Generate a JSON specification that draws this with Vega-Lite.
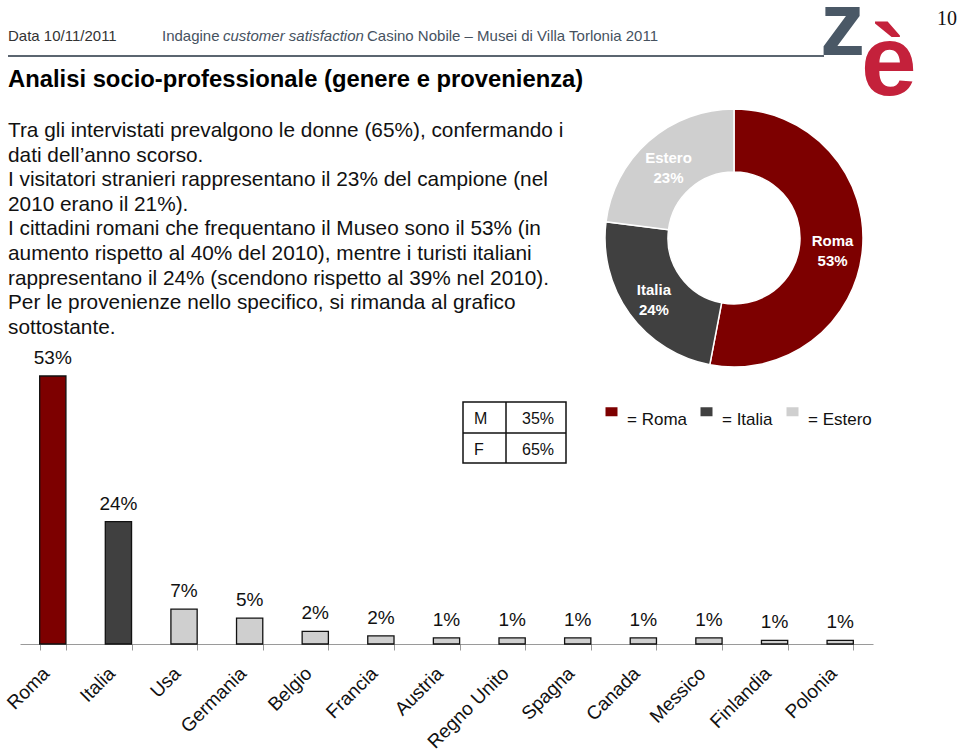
{
  "$schema": "https://vega.github.io/schema/vega-lite/v6.json",
  "width": 960,
  "height": 644,
  "autosize": {"type": "none"},
  "padding": {"left": 0, "top": 0, "right": 0, "bottom": 108},
  "background": "white",
  "config": {"view": {"stroke": null}, "font": "Liberation Sans", "text": {"font": "Liberation Sans"}},
  "datasets": {
    "paesi": [
      {"paese": "Roma", "gruppo": "Roma", "quota": 53, "etichetta": "53%"},
      {"paese": "Italia", "gruppo": "Italia", "quota": 24.2, "etichetta": "24%"},
      {"paese": "Usa", "gruppo": "Estero", "quota": 6.9, "etichetta": "7%"},
      {"paese": "Germania", "gruppo": "Estero", "quota": 5.1, "etichetta": "5%"},
      {"paese": "Belgio", "gruppo": "Estero", "quota": 2.5, "etichetta": "2%"},
      {"paese": "Francia", "gruppo": "Estero", "quota": 1.6, "etichetta": "2%"},
      {"paese": "Austria", "gruppo": "Estero", "quota": 1.2, "etichetta": "1%"},
      {"paese": "Regno Unito", "gruppo": "Estero", "quota": 1.2, "etichetta": "1%"},
      {"paese": "Spagna", "gruppo": "Estero", "quota": 1.2, "etichetta": "1%"},
      {"paese": "Canada", "gruppo": "Estero", "quota": 1.2, "etichetta": "1%"},
      {"paese": "Messico", "gruppo": "Estero", "quota": 1.2, "etichetta": "1%"},
      {"paese": "Finlandia", "gruppo": "Estero", "quota": 0.7, "etichetta": "1%"},
      {"paese": "Polonia", "gruppo": "Estero", "quota": 0.7, "etichetta": "1%"}
    ],
    "provenienza": [
      {"gruppo": "Roma", "quota": 53, "etichetta": "Roma\n53%"},
      {"gruppo": "Italia", "quota": 24, "etichetta": "Italia\n24%"},
      {"gruppo": "Estero", "quota": 23, "etichetta": "Estero\n23%"}
    ]
  },
  "layer": [
    {
      "data": {"name": "paesi"},
      "mark": {"type": "bar", "stroke": "#111111", "strokeWidth": 1.3},
      "encoding": {
        "x": {
          "field": "paese", "type": "nominal", "sort": null,
          "scale": {"range": [20, 873], "paddingInner": 0.6, "paddingOuter": 0.3},
          "axis": {
            "title": null, "grid": false, "labelAngle": -45, "labelAlign": "right", "labelBaseline": "middle",
            "labelFontSize": 19, "labelColor": "#111111", "labelFont": "Liberation Sans", "labelPadding": 20, "labelOffset": -7,
            "tickBand": "extent", "tickSize": 6, "tickColor": "#9a9a9a", "domainColor": "#9a9a9a", "labelOverlap": false
          }
        },
        "y": {"field": "quota", "type": "quantitative", "scale": {"domain": [0, 53], "range": [644, 376], "nice": false}, "axis": null},
        "color": {
          "field": "gruppo", "type": "nominal",
          "scale": {"domain": ["Roma", "Italia", "Estero"], "range": ["#7d0000", "#404040", "#cfcfcf"]},
          "legend": {
            "title": null, "orient": "none", "legendX": 603, "legendY": 403, "direction": "horizontal",
            "symbolType": "M-1,-0.75L1,-0.75L1,0.75L-1,0.75Z", "symbolSize": 144, "symbolStrokeWidth": 0,
            "labelFontSize": 17, "labelColor": "#111111", "labelFont": "Liberation Sans", "labelOffset": 7, "columnPadding": 11,
            "labelBaseline": "top",
            "labelExpr": "'= ' + datum.label"
          }
        }
      }
    },
    {
      "data": {"name": "paesi"},
      "mark": {"type": "text", "baseline": "bottom", "dy": -8, "fontSize": 19, "color": "#111111"},
      "encoding": {
        "x": {"field": "paese", "type": "nominal", "sort": null},
        "y": {"field": "quota", "type": "quantitative"},
        "text": {"field": "etichetta"}
      }
    },
    {
      "data": {"name": "provenienza"},
      "mark": {"type": "arc", "outerRadius": 129, "innerRadius": 66, "stroke": "white", "strokeWidth": 1.5},
      "encoding": {
        "x": {"value": 734},
        "y": {"value": 238},
        "theta": {"field": "quota", "type": "quantitative", "stack": true},
        "order": {"field": "quota", "sort": "descending"},
        "color": {"field": "gruppo", "type": "nominal"}
      }
    },
    {
      "data": {"name": "provenienza"},
      "mark": {"type": "text", "radius": 99, "fontSize": 15, "fontWeight": "bold", "color": "white", "lineBreak": "\n", "lineHeight": 20, "align": "center", "baseline": "middle", "dy": -6},
      "encoding": {
        "x": {"value": 734},
        "y": {"value": 238},
        "theta": {"field": "quota", "type": "quantitative", "stack": true},
        "order": {"field": "quota", "sort": "descending"},
        "text": {"field": "etichetta"}
      }
    },
    {
      "data": {"values": [{"testo": "Data 10/11/2011"}]},
      "mark": {"type": "text", "align": "left", "baseline": "middle", "fontSize": 15, "color": "#333333"},
      "encoding": {"x": {"value": 8}, "y": {"value": 36}, "text": {"field": "testo"}}
    },
    {
      "data": {"values": [{"testo": "Indagine"}]},
      "mark": {"type": "text", "align": "left", "baseline": "middle", "fontSize": 15, "color": "#46525f"},
      "encoding": {"x": {"value": 162}, "y": {"value": 36}, "text": {"field": "testo"}}
    },
    {
      "data": {"values": [{"testo": "customer satisfaction"}]},
      "mark": {"type": "text", "align": "left", "baseline": "middle", "fontSize": 15, "fontStyle": "italic", "color": "#46525f"},
      "encoding": {"x": {"value": 223}, "y": {"value": 36}, "text": {"field": "testo"}}
    },
    {
      "data": {"values": [{"testo": "Casino Nobile – Musei di Villa Torlonia 2011"}]},
      "mark": {"type": "text", "align": "left", "baseline": "middle", "fontSize": 15, "color": "#46525f"},
      "encoding": {"x": {"value": 367}, "y": {"value": 36}, "text": {"field": "testo"}}
    },
    {
      "data": {"values": [{}]},
      "mark": {"type": "rule", "color": "#5b6570", "strokeWidth": 2},
      "encoding": {"x": {"value": 8}, "x2": {"value": 824}, "y": {"value": 56}}
    },
    {
      "data": {"values": [{"testo": "z"}]},
      "mark": {"type": "text", "align": "left", "baseline": "alphabetic", "fontSize": 90, "fontWeight": "bold", "color": "#4a5866"},
      "encoding": {"x": {"value": 820}, "y": {"value": 55}, "text": {"field": "testo"}}
    },
    {
      "data": {"values": [{"testo": "è"}]},
      "mark": {"type": "text", "align": "left", "baseline": "alphabetic", "fontSize": 100, "fontWeight": "bold", "color": "#c4213b"},
      "encoding": {"x": {"value": 861}, "y": {"value": 95}, "text": {"field": "testo"}}
    },
    {
      "data": {"values": [{"testo": "10"}]},
      "mark": {"type": "text", "align": "left", "baseline": "middle", "fontSize": 20, "font": "Liberation Serif", "color": "#111111"},
      "encoding": {"x": {"value": 937}, "y": {"value": 19}, "text": {"field": "testo"}}
    },
    {
      "data": {"values": [{"testo": "Analisi socio-professionale (genere e provenienza)"}]},
      "mark": {"type": "text", "align": "left", "baseline": "middle", "fontSize": 23.8, "fontWeight": "bold", "color": "#000000"},
      "encoding": {"x": {"value": 8}, "y": {"value": 80}, "text": {"field": "testo"}}
    },
    {
      "data": {"values": [{"testo": "Tra gli intervistati prevalgono le donne (65%), confermando i\ndati dell’anno scorso.\nI visitatori stranieri rappresentano il 23% del campione (nel\n2010 erano il 21%).\nI cittadini romani che frequentano il Museo sono il 53% (in\naumento rispetto al 40% del 2010), mentre i turisti italiani\nrappresentano il 24% (scendono rispetto al 39% nel 2010).\nPer le provenienze nello specifico, si rimanda al grafico\nsottostante."}]},
      "mark": {"type": "text", "align": "left", "baseline": "alphabetic", "fontSize": 20.8, "lineBreak": "\n", "lineHeight": 24.6, "color": "#111111"},
      "encoding": {"x": {"value": 8}, "y": {"value": 137}, "text": {"field": "testo"}}
    },
    {
      "data": {"values": [{}]},
      "mark": {"type": "rect", "fill": null, "fillOpacity": 0, "stroke": "#111111", "strokeWidth": 1.5},
      "encoding": {"x": {"value": 463}, "x2": {"value": 566}, "y": {"value": 402}, "y2": {"value": 463}}
    },
    {
      "data": {"values": [{}]},
      "mark": {"type": "rule", "color": "#111111", "strokeWidth": 1.5},
      "encoding": {"x": {"value": 463}, "x2": {"value": 566}, "y": {"value": 433}}
    },
    {
      "data": {"values": [{}]},
      "mark": {"type": "rule", "color": "#111111", "strokeWidth": 1.5},
      "encoding": {"x": {"value": 506}, "y": {"value": 402}, "y2": {"value": 463}}
    },
    {
      "data": {"values": [{"testo": "M\nF"}]},
      "mark": {"type": "text", "align": "left", "baseline": "alphabetic", "fontSize": 16, "lineBreak": "\n", "lineHeight": 31, "color": "#111111"},
      "encoding": {"x": {"value": 474}, "y": {"value": 424}, "text": {"field": "testo"}}
    },
    {
      "data": {"values": [{"testo": "35%\n65%"}]},
      "mark": {"type": "text", "align": "left", "baseline": "alphabetic", "fontSize": 16, "lineBreak": "\n", "lineHeight": 31, "color": "#111111"},
      "encoding": {"x": {"value": 522}, "y": {"value": 424}, "text": {"field": "testo"}}
    }
  ]
}
